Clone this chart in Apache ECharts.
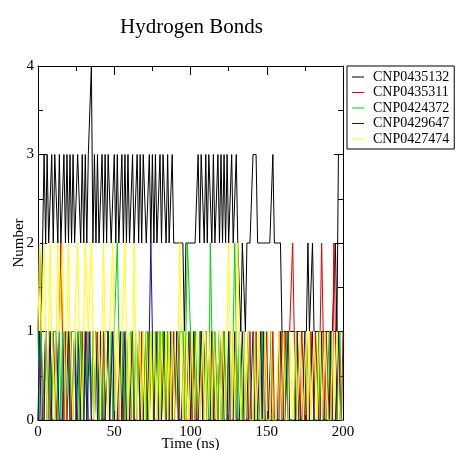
<!DOCTYPE html>
<html>
<head>
<meta charset="utf-8">
<script src="https://cdn.jsdelivr.net/npm/echarts@6/dist/echarts.min.js"></script>
<style>
  html, body { margin: 0; padding: 0; background: #fff; }
  #chart { width: 456px; height: 450px; }
</style>
</head>
<body>
<div id="chart"></div>
<script>
// hydrogen bond counts, one sample per ns (t = 0..200)
const SERIES_NAMES = ['CNP0435132', 'CNP0435311', 'CNP0424372', 'CNP0429647', 'CNP0427474'];
const SERIES_COLORS = ['#000000', '#e00000', '#00d000', '#10109a', '#ffff00'];
const X_TICKS = [0, 50, 100, 150, 200];
const Y_TICKS = [0, 1, 2, 3, 4];

const hb0435132 = [
  1,2,1,2,3,2,3,2,2,3,2,3,3,2,3,2,2,3,2,3,
  2,3,2,3,2,2,3,3,2,3,2,3,2,3,3,4,2,3,2,3,
  2,2,3,2,3,2,3,3,2,2,3,2,3,2,2,3,2,3,2,3,
  2,2,3,2,2,3,2,3,2,3,3,2,2,3,2,3,2,3,2,2,
  3,2,3,3,2,3,2,2,3,2,2,2,2,2,2,2,1,2,2,2,
  2,2,2,2,2,3,2,3,3,2,3,2,3,3,2,3,2,2,3,2,
  3,2,3,2,3,2,2,3,2,2,3,2,2,1,2,2,1,2,2,2,
  2,3,3,3,2,2,2,2,2,2,2,2,2,2,3,2,2,2,2,2,
  1,1,1,1,1,1,1,1,1,1,1,1,1,1,1,1,1,2,1,1,
  2,1,1,1,1,1,1,1,1,1,1,1,1,1,1,2,1,3,3,3,
  3
];
const hb0435311 = [
  0,0,1,0,0,1,0,1,0,0,1,1,0,0,1,2,1,0,1,0,
  0,1,0,0,1,1,0,0,0,1,0,0,1,0,0,0,1,0,0,1,
  0,0,0,1,0,0,1,0,0,0,1,0,0,0,0,1,0,0,1,0,
  0,0,1,0,0,0,1,0,1,0,0,0,1,0,0,1,0,0,0,1,
  0,0,1,0,0,1,0,0,0,1,0,0,1,0,0,0,1,0,0,0,
  1,0,0,1,0,0,0,1,0,0,1,0,0,1,0,1,0,0,0,1,
  0,0,1,0,0,0,1,0,0,0,1,0,0,0,0,1,0,0,0,1,
  0,0,0,1,0,0,0,1,0,0,1,0,0,0,1,0,0,0,1,0,
  1,0,1,1,0,1,1,2,1,0,1,1,0,1,1,0,1,1,0,1,
  1,0,1,1,0,1,2,1,0,1,1,0,1,0,2,1,0,1,1,0,
  1
];
const hb0424372 = [
  1,0,1,1,0,1,1,0,1,0,1,1,1,0,1,0,1,1,0,1,
  1,0,1,1,1,0,1,0,1,1,0,1,0,1,1,0,1,0,1,1,
  0,1,1,0,1,1,1,0,1,0,1,1,2,1,1,0,1,0,1,1,
  0,1,1,0,1,0,1,1,0,1,1,0,1,0,1,1,0,1,1,0,
  1,0,1,1,0,1,1,0,1,1,0,1,0,1,1,1,0,1,2,2,
  1,1,0,1,1,0,1,1,1,0,1,1,0,2,1,0,1,1,0,1,
  1,0,1,1,0,1,1,0,1,2,1,0,1,1,0,1,0,0,1,0,
  0,0,1,0,0,0,0,1,0,0,0,0,0,1,0,0,0,0,0,0,
  0,0,0,1,0,0,0,0,0,1,0,0,0,0,0,0,1,0,0,0,
  0,0,0,0,1,0,0,0,0,0,0,1,0,0,0,0,0,0,1,0,
  0
];
const hb0429647 = [
  0,1,0,0,0,1,0,0,1,0,0,0,1,1,0,0,0,1,0,0,
  1,0,0,0,1,0,0,1,0,0,0,1,0,0,1,0,0,0,1,0,
  0,1,0,0,0,0,1,0,0,1,0,0,0,0,1,0,0,1,0,0,
  0,0,1,0,0,0,1,0,0,0,0,1,0,1,2,1,0,0,1,0,
  0,0,0,1,0,0,0,1,0,0,0,1,0,0,0,0,1,0,0,1,
  0,0,1,0,0,0,0,1,0,0,1,0,0,0,1,0,0,0,0,1,
  0,1,0,0,0,1,0,0,0,1,0,0,0,0,1,0,0,0,1,0,
  0,1,0,0,0,0,1,0,1,0,0,0,0,1,0,0,0,0,0,1,
  0,0,0,0,1,0,0,0,0,0,1,0,0,0,0,1,0,0,0,0,
  1,0,0,0,0,0,1,0,0,0,0,0,1,0,0,0,0,1,0,0,
  0
];
const hb0427474 = [
  1,2,1,1,2,1,0,1,2,1,1,0,1,2,1,1,2,1,0,1,
  2,1,1,0,1,1,2,1,1,0,1,2,2,1,1,2,1,0,1,1,
  1,0,1,2,1,1,0,1,1,2,1,0,1,1,0,1,1,2,1,0,
  1,1,0,2,1,0,1,1,0,1,0,1,1,0,1,0,1,1,0,1,
  0,1,1,0,1,0,1,0,1,1,0,0,1,2,1,0,1,0,1,0,
  0,1,0,0,1,1,0,0,1,0,1,0,0,1,0,1,1,0,0,1,
  0,1,1,0,1,2,1,0,1,0,1,2,2,0,0,1,0,0,1,0,
  0,0,1,0,0,1,0,0,0,1,0,0,0,1,0,0,0,0,1,0,
  0,1,0,0,0,1,1,0,0,1,0,0,1,1,0,0,1,0,1,0,
  0,1,1,0,0,1,0,0,1,1,0,0,0,1,0,0,1,1,0,0,
  0
];
const SERIES_VALUES = [hb0435132, hb0435311, hb0424372, hb0429647, hb0427474];

const FONT = 'Liberation Serif';

function makeX(pos) {
  return {
    type: 'value',
    position: pos,
    min: X_TICKS[0],
    max: X_TICKS[X_TICKS.length - 1],
    interval: 50,
    name: pos === 'bottom' ? 'Time (ns)' : '',
    nameLocation: 'middle',
    nameGap: 17,
    nameMoveOverlap: false,
    nameTextStyle: { fontFamily: FONT, fontSize: 15, color: '#000' },
    axisLine: { show: true, onZero: false, lineStyle: { color: '#000', width: 1 } },
    axisTick: { show: true, inside: true, length: 9, lineStyle: { color: '#000' } },
    minorTick: { show: true, splitNumber: 2, length: 5, lineStyle: { color: '#000' } },
    axisLabel: { show: pos === 'bottom', fontFamily: FONT, fontSize: 15, color: '#000', margin: 5 },
    splitLine: { show: false }
  };
}

function makeY(pos) {
  return {
    type: 'value',
    position: pos,
    min: Y_TICKS[0],
    max: Y_TICKS[Y_TICKS.length - 1],
    interval: 1,
    name: pos === 'left' ? 'Number' : '',
    nameLocation: 'middle',
    nameGap: 11,
    nameMoveOverlap: false,
    nameTextStyle: { fontFamily: FONT, fontSize: 15, color: '#000' },
    axisLine: { show: true, onZero: false, lineStyle: { color: '#000', width: 1 } },
    axisTick: { show: true, inside: true, length: 9, lineStyle: { color: '#000' } },
    minorTick: { show: true, splitNumber: 2, length: 5, lineStyle: { color: '#000' } },
    axisLabel: { show: pos === 'left', fontFamily: FONT, fontSize: 15, color: '#000', margin: 4 },
    splitLine: { show: false }
  };
}

const chart = echarts.init(document.getElementById('chart'), null, { renderer: 'canvas' });

const option = {
  backgroundColor: '#fff',
  animation: false,
  title: {
    text: 'Hydrogen Bonds',
    left: 115,
    top: 12,
    textStyle: { fontFamily: FONT, fontSize: 21, fontWeight: 'normal', color: '#000' }
  },
  legend: {
    orient: 'vertical',
    left: 347,
    top: 66,
    padding: [4, 5, 3, 5],
    itemGap: 1.5,
    itemWidth: 12,
    itemHeight: 1,
    icon: 'rect',
    borderColor: '#000',
    borderWidth: 1,
    data: SERIES_NAMES,
    textStyle: { fontFamily: FONT, fontSize: 14, color: '#000', lineHeight: 14, padding: [0, 0, 0, 4] }
  },
  grid: { left: 38, right: 113, top: 66, bottom: 30, outerBoundsMode: 'none', containLabel: false },
  xAxis: [makeX('bottom'), makeX('top')],
  yAxis: [makeY('left'), makeY('right')],
  series: SERIES_NAMES.map((name, k) => ({
    name: name,
    type: 'line',
    xAxisIndex: 0,
    yAxisIndex: 0,
    showSymbol: false,
    symbol: 'none',
    color: SERIES_COLORS[k],
    lineStyle: { width: 1, color: SERIES_COLORS[k] },
    data: SERIES_VALUES[k].map((v, i) => [i, v])
  }))
};

chart.setOption(option);
</script>
</body>
</html>
